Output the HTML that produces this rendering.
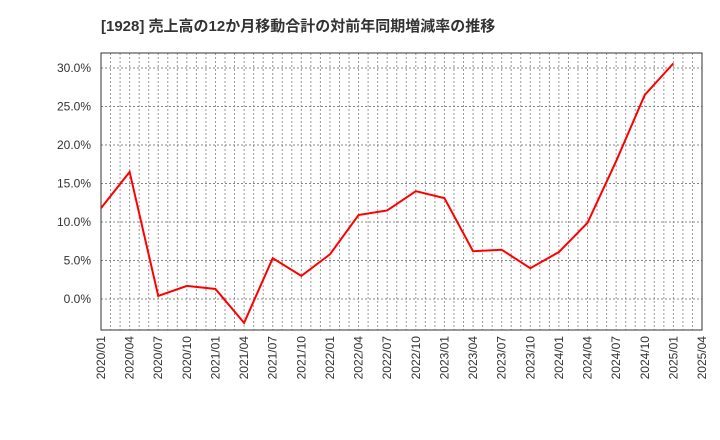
<!DOCTYPE html>
<html><head><meta charset="utf-8"><style>
body{margin:0;background:#fff;}
svg{display:block;font-family:"Liberation Sans","Noto Sans CJK JP",sans-serif;}
</style></head><body>
<svg id="c" width="720" height="440">
<text x="101" y="31" font-size="15" font-weight="bold" fill="#333">[1928]  売上高の12か月移動合計の対前年同期増減率の推移</text>
<g id="grid"></g><g id="axes"></g><g id="series"></g>
</svg>
<script>
const categories=["2020/01","2020/04","2020/07","2020/10","2021/01","2021/04","2021/07","2021/10","2022/01","2022/04","2022/07","2022/10","2023/01","2023/04","2023/07","2023/10","2024/01","2024/04","2024/07","2024/10","2025/01","2025/04"];
const values=[11.8,16.5,0.4,1.7,1.3,-3.1,5.3,3.0,5.8,10.9,11.5,14.0,13.1,6.2,6.4,4.0,6.1,9.9,17.9,26.5,30.6];
const yTicks=[0,5,10,15,20,25,30];
const L=101,R=702,T=53,B=330;
const x=i=>L+i*(R-L)/(categories.length-1);
const y=v=>299-v*(299-68)/30;
const NS="http://www.w3.org/2000/svg";
function mk(t,a,p){const e=document.createElementNS(NS,t);for(const k in a)e.setAttribute(k,a[k]);p.appendChild(e);return e;}
const g=document.getElementById('grid'),ax=document.getElementById('axes'),s=document.getElementById('series');
const months=(categories.length-1)*3;
for(let m=1;m<months;m++){const xx=L+m*(R-L)/months;
const l=mk('line',{x1:xx,x2:xx,y1:T,y2:B,stroke:'#999','stroke-dasharray':'2,2','stroke-width':1},g);
}
yTicks.forEach(v=>{const l=mk('line',{x1:L,x2:R,y1:y(v),y2:y(v),stroke:'#888','stroke-dasharray':'2,2','stroke-width':1},g);

const t=mk('text',{x:L-10,y:y(v)+4,'text-anchor':'end','font-size':12,fill:'#333'},ax);t.textContent=v.toFixed(1)+'%';
});
const f=mk('rect',{x:L,y:T,width:R-L,height:B-T,fill:'none',stroke:'#333','stroke-width':1},ax);

categories.forEach((c,i)=>{const t=mk('text',{transform:`translate(${x(i)+4},${B+6}) rotate(-90)`,'text-anchor':'end','font-size':12,fill:'#333'},ax);t.textContent=c;
});
const p=mk('polyline',{points:values.map((v,i)=>x(i)+','+y(v)).join(' '),fill:'none',stroke:'#f00','stroke-width':2},s);

</script>
</body></html>
